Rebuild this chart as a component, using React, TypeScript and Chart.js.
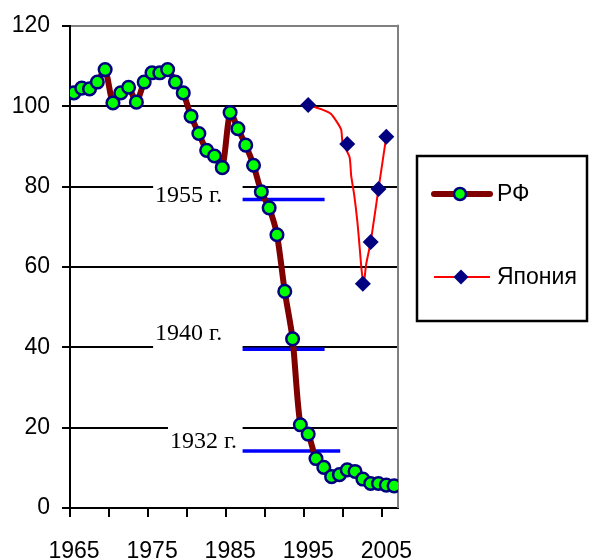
import React, { useEffect, useRef } from 'react';
import { Chart, registerables } from 'chart.js';

Chart.register(...registerables);

// ---- Data ----
const rfYears = [
  1965, 1966, 1967, 1968, 1969, 1970, 1971, 1972, 1973, 1974,
  1975, 1976, 1977, 1978, 1979, 1980, 1981, 1982, 1983, 1984,
  1985, 1986, 1987, 1988, 1989, 1990, 1991, 1992, 1993, 1994,
  1995, 1996, 1997, 1998, 1999, 2000, 2001, 2002, 2003, 2004,
  2005, 2006,
];
const rfValues = [
  103.3, 104.5, 104.3, 106.0, 109.1, 100.8, 103.3, 104.7, 101.0, 106.0,
  108.3, 108.3, 109.1, 106.0, 103.3, 97.5, 93.2, 89.0, 87.6, 84.7,
  98.4, 94.4, 90.3, 85.3, 78.7, 74.7, 68.0, 53.9, 42.1, 20.7,
  18.4, 12.3, 10.1, 7.8, 8.3, 9.5, 9.1, 7.2, 6.1, 6.1,
  5.7, 5.5,
];

const japanMarkerYears = [1995, 2000, 2002, 2003, 2004, 2005];
const japanMarkerValues = [100.3, 90.6, 55.8, 66.2, 79.4, 92.4];

const japanLineYears = [
  1995, 1996.6, 1997.9, 1999.2, 1999.4, 2000.3, 2000.5, 2000.9,
  2001.3, 2001.6, 2001.8, 2002.1, 2002.4, 2003, 2004, 2005,
];
const japanLineValues = [
  100.3, 99.3, 98.1, 94.3, 91.0, 87.3, 82.8, 77.8,
  71.2, 64.6, 60.0, 55.4, 60.4, 66.2, 79.4, 92.4,
];

const seriesNames = ['РФ', 'Япония'];

const xTickValues = [1964.5, 1969.5, 1974.5, 1979.5, 1984.5, 1989.5, 1994.5, 1999.5, 2004.5];
const xTickLabels = ['1965', '', '1975', '', '1985', '', '1995', '', '2005'];

// Reference levels (historical years)
const levelLabels = ['1955 г.', '1940 г.', '1932 г.'];
const levelValues = [76.8, 39.5, 14.2];
const levelFrom = [1986.6, 1986.6, 1986.6];
const levelTo = [1997.1, 1997.1, 1999.1];
const levelTextYears = [1975.4, 1975.4, 1977.3];
const levelTextValues = [76.1, 41.7, 14.9];

const SANS = '"Liberation Sans", Arial, sans-serif';
const SERIF = '"Liberation Serif", "Times New Roman", serif';

const overlayPlugin = {
  id: 'overlay',
  beforeDatasetsDraw(chart: any) {
    const { ctx, chartArea } = chart;
    const x = chart.scales.x;
    const y = chart.scales.y;
    ctx.save();
    // grey right border of plot area
    ctx.strokeStyle = '#808080';
    ctx.lineWidth = 2;
    ctx.beginPath();
    ctx.moveTo(chartArea.right, chartArea.top - 1);
    ctx.lineTo(chartArea.right, chartArea.bottom);
    ctx.stroke();

    levelLabels.forEach((t, i) => {
      const tx = x.getPixelForValue(levelTextYears[i]);
      const ty = y.getPixelForValue(levelTextValues[i]);
      const ex = x.getPixelForValue(levelFrom[i]);
      ctx.fillStyle = '#ffffff';
      ctx.fillRect(tx - 2, ty - 24, ex - tx + 2, 34);
      ctx.fillStyle = '#000000';
      ctx.font = '24px ' + SERIF;
      ctx.textAlign = 'left';
      ctx.textBaseline = 'alphabetic';
      ctx.fillText(t, tx, ty);
      const ly = y.getPixelForValue(levelValues[i]);
      ctx.strokeStyle = '#0000ff';
      ctx.lineWidth = 3.5;
      ctx.beginPath();
      ctx.moveTo(ex, ly);
      ctx.lineTo(x.getPixelForValue(levelTo[i]), ly);
      ctx.stroke();
    });
    ctx.restore();
  },
  afterDraw(chart: any) {
    const { ctx } = chart;
    ctx.save();
    // legend box
    ctx.strokeStyle = '#000000';
    ctx.lineWidth = 2.5;
    ctx.strokeRect(417, 156, 170, 165);

    // RF entry
    ctx.strokeStyle = '#800000';
    ctx.lineWidth = 6;
    ctx.lineCap = 'round';
    ctx.beginPath();
    ctx.moveTo(434, 194);
    ctx.lineTo(490, 194);
    ctx.stroke();
    ctx.beginPath();
    ctx.arc(460, 194, 6, 0, Math.PI * 2);
    ctx.fillStyle = '#00ff00';
    ctx.fill();
    ctx.strokeStyle = '#000080';
    ctx.lineWidth = 2.5;
    ctx.stroke();

    // Japan entry
    ctx.lineCap = 'butt';
    ctx.strokeStyle = '#ff0000';
    ctx.lineWidth = 2;
    ctx.beginPath();
    ctx.moveTo(434, 277);
    ctx.lineTo(490, 277);
    ctx.stroke();
    ctx.fillStyle = '#000080';
    ctx.beginPath();
    ctx.moveTo(461, 269.5);
    ctx.lineTo(468.5, 277);
    ctx.lineTo(461, 284.5);
    ctx.lineTo(453.5, 277);
    ctx.closePath();
    ctx.fill();

    ctx.fillStyle = '#000000';
    ctx.font = '23px ' + SANS;
    ctx.textAlign = 'left';
    ctx.textBaseline = 'middle';
    ctx.fillText(seriesNames[0], 497, 195);
    ctx.fillText(seriesNames[1], 497, 278);
    ctx.restore();
  },
};

export default function App() {
  const canvasRef = useRef<HTMLCanvasElement | null>(null);

  useEffect(() => {
    if (!canvasRef.current) return;
    const chart = new Chart(canvasRef.current, {
      type: 'line',
      data: {
        datasets: [
          {
            label: seriesNames[0],
            data: rfYears.map((v, i) => ({ x: v, y: rfValues[i] })),
            borderColor: '#800000',
            borderWidth: 6,
            pointRadius: 6.3,
            pointBackgroundColor: '#00ff00',
            pointBorderColor: '#000080',
            pointBorderWidth: 2.5,
            tension: 0.25,
            order: 0,
          },
          {
            label: seriesNames[1],
            data: japanMarkerYears.map((v, i) => ({ x: v, y: japanMarkerValues[i] })),
            showLine: false,
            pointStyle: 'rectRot',
            pointRadius: 8,
            pointBackgroundColor: '#000080',
            pointBorderColor: '#000080',
            pointBorderWidth: 0,
            order: 1,
          },
          {
            label: seriesNames[1] + ' line',
            data: japanLineYears.map((v, i) => ({ x: v, y: japanLineValues[i] })),
            borderColor: '#ff0000',
            borderWidth: 2,
            pointRadius: 0,
            tension: 0.2,
            order: 2,
          },
        ],
      },
      options: {
        responsive: true,
        maintainAspectRatio: false,
        animation: false,
        layout: { padding: { top: 25, right: 191, left: 0, bottom: 0 } },
        plugins: { legend: { display: false }, tooltip: { enabled: false } },
        scales: {
          x: {
            type: 'linear',
            min: 1964.5,
            max: 2006.5,
            afterFit: (s: any) => {
              s.height = 52;
            },
            afterBuildTicks: (s: any) => {
              s.ticks = xTickValues.map((v) => ({ value: v }));
            },
            ticks: {
              callback: (_v: any, i: number) => xTickLabels[i],
              labelOffset: 4,
              padding: 21,
              autoSkip: false,
              maxRotation: 0,
              color: '#000000',
              font: { family: SANS, size: 23 },
            },
            grid: {
              drawOnChartArea: false,
              drawTicks: true,
              tickLength: 9,
              tickColor: '#000000',
              tickWidth: 2,
              lineWidth: 2,
            },
            border: { color: '#000000', width: 2 },
          },
          y: {
            min: 0,
            max: 120,
            afterFit: (s: any) => {
              s.width = 70;
            },
            ticks: {
              stepSize: 20,
              padding: 12,
              color: '#000000',
              font: { family: SANS, size: 23 },
            },
            grid: {
              color: (c: any) => (c.tick && c.tick.value === 120 ? '#808080' : '#000000'),
              lineWidth: 2,
              tickLength: 8,
              tickColor: '#000000',
              tickWidth: 2,
            },
            border: { color: '#000000', width: 2 },
          },
        },
      },
      plugins: [overlayPlugin],
    });
    return () => chart.destroy();
  }, []);

  return (
    <div style={{ position: 'fixed', left: 0, top: 0, width: 589, height: 560, background: '#ffffff' }}>
      <canvas ref={canvasRef} />
    </div>
  );
}
